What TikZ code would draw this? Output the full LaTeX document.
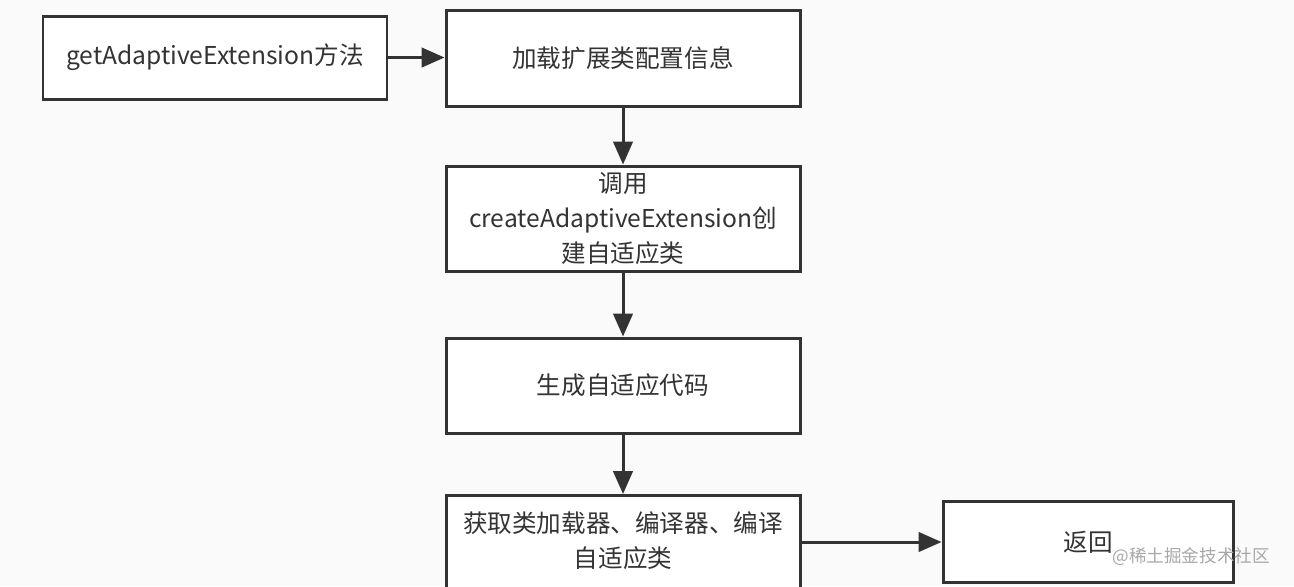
\documentclass[tikz,border=0pt]{standalone}
\usepackage{fontspec}
\setmainfont{Noto Sans CJK SC}
\usetikzlibrary{arrows.meta}
\definecolor{ink}{HTML}{333333}
\definecolor{bg}{HTML}{FAFAFA}
\definecolor{wm}{HTML}{A8A8A8}
\begin{document}
\begin{tikzpicture}[x=0.02cm,y=-0.02cm,
  txt/.style={text=ink,align=center,font=\fontsize{14}{20}\selectfont},
  box/.style={txt,draw=ink,line width=1.7pt,fill=white,inner sep=0pt},
  arr/.style={draw=ink,line width=1.7pt,-{Triangle[length=13pt,width=11pt]}}]
\fill[bg] (0,0) rectangle (1294,586);
\useasboundingbox (0,0) rectangle (1294,586);
\clip (0,0) rectangle (1294,586);
\node[box,minimum width=344*0.02cm,minimum height=83*0.02cm] (a) at (215,57.5) {getAdaptiveExtension方法};
\node[box,minimum width=354*0.02cm,minimum height=96*0.02cm] (b) at (623,58) {加载扩展类配置信息};
\node[box,minimum width=354*0.02cm,minimum height=105*0.02cm] (c) at (623,218.5) {调用\\createAdaptiveExtension创\\建自适应类};
\node[box,minimum width=354*0.02cm,minimum height=95*0.02cm] (d) at (623,385.5) {生成自适应代码};
\node[box,minimum width=354*0.02cm,minimum height=120*0.02cm,anchor=north] (e) at (623,494) {};
\node[txt] (et) at (623,541) {获取类加载器、编译器、编译\\自适应类};
\node[box,minimum width=290*0.02cm,minimum height=81*0.02cm] (f) at (1088,542) {返回};
\draw[arr] (a.east) -- (b.west |- a.east);
\draw[arr] (b) -- (c);
\draw[arr] (c) -- (d);
\draw[arr] (d) -- (e);
\draw[arr] (e.east |- f.west) -- (f.west);
\node[wm,font=\fontsize{10}{12}\selectfont,anchor=east] (w) at (1276,557) {@稀土掘金技术社区};
\end{tikzpicture}
\end{document}
